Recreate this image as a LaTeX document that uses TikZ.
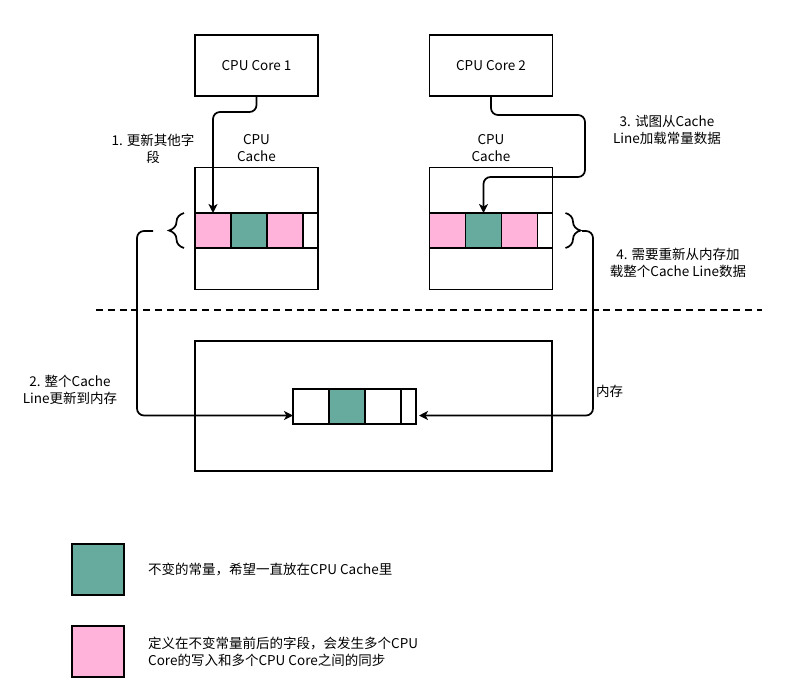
\documentclass[tikz,border=0pt]{standalone}
\usepackage{fontspec}
\setmainfont{Noto Sans CJK SC}
\usetikzlibrary{arrows.meta, positioning, calc, decorations.pathreplacing}

\definecolor{constgreen}{HTML}{67AB9F}
\definecolor{fieldpink}{HTML}{FFB3DA}

\begin{document}
\begin{tikzpicture}[
    x=1pt, y=-1pt, >={Stealth[length=9pt, width=9pt, inset=2.5pt]},
    font=\fontsize{13.5}{17}\selectfont,
    box/.style={draw, line width=1.3pt, inner sep=0pt, outer sep=0pt},
    cell/.style={draw, line width=1.3pt, inner sep=0pt, outer sep=0pt,
                 minimum width=36pt, minimum height=35pt},
    flow/.style={->, line width=1.7pt, rounded corners=7pt},
    brace/.style={decorate, line width=1.7pt,
                  decoration={brace, amplitude=15pt}},
    note/.style={align=center, inner sep=0pt}
  ]
  \useasboundingbox (0,0) rectangle (810,699);

  % cores
  \node[box, minimum width=123pt, minimum height=61pt] (core1) at (256.5,65.5)
    {CPU Core 1};
  \node[box, minimum width=123pt, minimum height=61pt] (core2) at (491,65.5)
    {CPU Core 2};

  % caches
  \node[box, minimum width=123pt, minimum height=122pt] (cache1) at (256.5,228.5) {};
  \node[box, minimum width=123pt, minimum height=122pt] (cache2) at (491,228.5) {};
  \node[note, above=6pt of cache1] (cachelbl1) {CPU\\Cache};
  \node[note, above=6pt of cache2] (cachelbl2) {CPU\\Cache};

  \node[cell, fill=fieldpink, anchor=north west] (c1a) at (195,213) {};
  \node[cell, fill=constgreen, right=0pt of c1a] (c1b) {};
  \node[cell, fill=fieldpink, right=0pt of c1b] (c1c) {};
  \node[cell, minimum width=15pt, right=0pt of c1c] (c1d) {};

  \node[cell, fill=fieldpink, anchor=north west] (c2a) at (429.5,213) {};
  \node[cell, fill=constgreen, right=0pt of c2a] (c2b) {};
  \node[cell, fill=fieldpink, right=0pt of c2b] (c2c) {};
  \node[cell, minimum width=15pt, right=0pt of c2c] (c2d) {};

  % memory
  \draw[dashed, line width=1.3pt, dash pattern=on 7pt off 4.8pt] (96,310) -- (762,310);
  \node[box, minimum width=357pt, minimum height=130pt] (mem) at (373.5,406) {};
  \node[cell, anchor=north west] (m1) at (293,389) {};
  \node[cell, fill=constgreen, right=0pt of m1] (m2) {};
  \node[cell, right=0pt of m2] (m3) {};
  \node[cell, minimum width=15pt, right=0pt of m3] (m4) {};

  % braces round the cache lines
  \draw[brace] ($(c1a.south west)+(-11,0)$) -- ($(c1a.north west)+(-11,0)$);
  \draw[brace] ($(c2d.north east)+(13,0)$) -- ($(c2d.south east)+(13,0)$);
  \coordinate (lbrace) at (153,231);
  \coordinate (rbrace) at (582,231);
  \coordinate (turn3) at (585,177);

  % connectors
  \draw[flow] (core1.south) -- ++(0,16) -| (c1a.north);
  \draw[flow] (core2.south) -- ++(0,19) -| (turn3) -| (c2b.north);
  \draw[flow] (lbrace) -- ++(-16,0) |- ([yshift=-9pt]m1.west);
  \draw[flow] (rbrace) -- ++(11,0) |- ([shift={(3pt,-9pt)}]m4.east);

  % step labels
  \node[note] (step1) at (153,149) {1. 更新其他字\\段};
  \node[note] (step2) at (70,390) {2. 整个Cache\\Line更新到内存};
  \node[note] (step3) at (667,130) {3. 试图从Cache\\Line加载常量数据};
  \node[note] (step4) at (678,263) {4. 需要重新从内存加\\载整个Cache Line数据};
  \node[note, anchor=west] (memlbl) at (596,391) {内存};

  % legend
  \node[box, fill=constgreen, minimum width=52pt, minimum height=51pt] (keyconst)
    at (98,569.5) {};
  \node[note, anchor=west, right=24pt of keyconst] (keyconsttxt)
    {不变的常量，希望一直放在CPU Cache里};
  \node[box, fill=fieldpink, minimum width=52pt, minimum height=51pt] (keyfield)
    at (98,651.5) {};
  \node[note, align=left, anchor=west, right=24pt of keyfield] (keyfieldtxt)
    {定义在不变常量前后的字段，会发生多个CPU\\Core的写入和多个CPU Core之间的同步};
\end{tikzpicture}
\end{document}
